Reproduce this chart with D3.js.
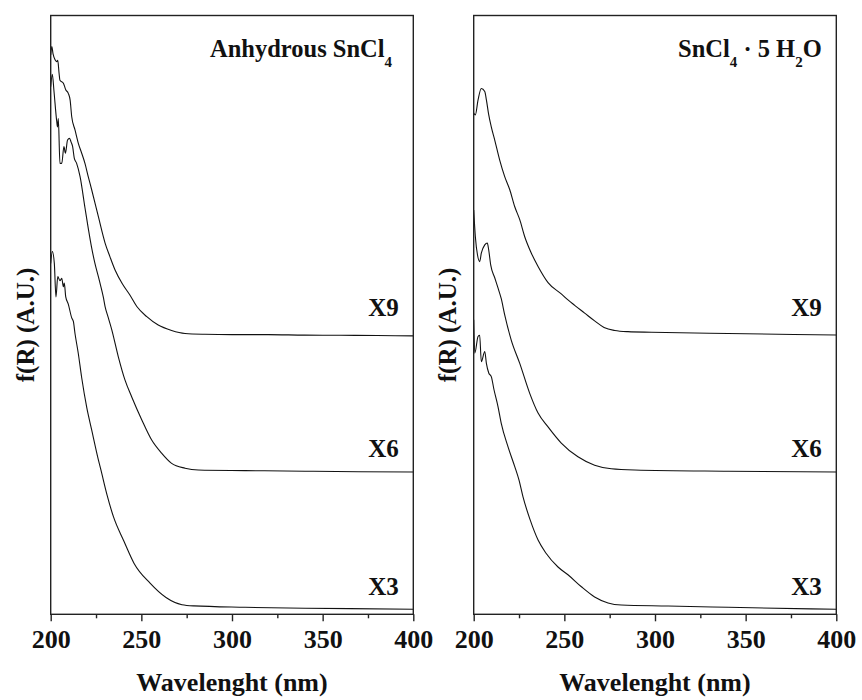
<!DOCTYPE html>
<html><head><meta charset="utf-8">
<script src="https://cdn.jsdelivr.net/npm/d3@7"></script>
<style>
html,body{margin:0;padding:0;background:#fff;}
svg text{font-family:"Liberation Serif","Times New Roman",Tinos,"DejaVu Serif","Noto Serif",serif;font-weight:bold;fill:#111;}
</style></head><body>
<svg id="chart" width="862" height="700"></svg>
<script>
// Wavelength axis
const majorTicks = [200, 250, 300, 350, 400];
const minorTicks = [225, 275, 325, 375];
const xTitle = "Wavelenght (nm)";
const yTitle = "f(R) (A.U.)";
const seriesNames = ["X9", "X6", "X3"];

// Kubelka-Munk spectra, stacked with vertical offsets: [wavelength (nm), f(R) (A.U.)]
const anhydrousX9 = [[200,93.4],[200.6,94.8],[201.3,93.6],[202.4,92.6],[203.3,92.3],[203.9,92.5],[204.6,90.4],[205.1,89.2],[207.0,88.7],[208.3,87.6],[209.7,87.0],[210.7,85.9],[211.6,83.1],[213.4,80.9],[215.2,78.7],[217.1,77.0],[218.9,75.3],[220.7,73.1],[222.6,70.9],[226.3,66.4],[230.0,62.0],[232.7,59.7],[235.5,57.5],[239.5,55.2],[243.5,53.4],[247.5,51.4],[253,49.7],[259.3,48.3],[266.7,47.4],[274.1,46.9],[285,46.76],[300,46.7],[320,46.7],[340,46.62],[360,46.6],[380,46.55],[400,46.5]];
const anhydrousX6 = [[200,88.1],[200.9,90.2],[201.8,87.4],[203.3,82.4],[203.75,81.4],[204.2,82.8],[205.1,75.3],[206.1,75.3],[207.3,78.1],[208.1,77.0],[209.3,79.2],[210.4,79.5],[211.2,78.9],[212.1,78.1],[213.0,76.2],[214.3,75.3],[216.2,73.1],[218.9,67.9],[220.7,64.5],[222.6,61.2],[224.4,58.6],[226.3,56.4],[227.2,55.3],[229.0,53.0],[230.0,51.4],[231.8,49.5],[233.7,47.5],[237.3,43.0],[241.0,39.1],[244.7,36.3],[250.2,32.5],[255.7,29.1],[261.2,26.9],[266.7,25.2],[274.1,24.4],[281.4,24.1],[307.2,24.0],[340.3,23.9],[370,23.8],[400,23.77]];
const anhydrousX3 = [[200,58.6],[200.9,60.6],[202.0,58.6],[202.9,53.0],[203.9,56.4],[205.1,55.7],[206.1,56.1],[207.0,54.7],[207.5,55.3],[208.3,53.0],[209.7,51.8],[211.6,49.5],[212.5,48.9],[213.4,46.9],[215.2,43.6],[217.1,39.5],[219.9,34.5],[222.6,30.8],[226.3,25.8],[227.7,24.1],[231.1,19.9],[234.6,16.3],[240.4,12.2],[246.0,8.5],[254.8,5.2],[263.6,2.8],[272.4,1.6],[279.0,1.4],[307.2,1.17],[340.3,1.0],[365.1,0.94],[400,0.84]];

const hydrateX9 = [[200,83.7],[200.9,83.4],[202.4,85.9],[204.2,87.8],[206.1,87.3],[207.0,85.9],[208.3,83.4],[209.7,81.4],[211.6,79.2],[214.3,75.9],[217.1,73.1],[219.9,70.9],[222.6,68.1],[225.4,65.9],[228.1,63.1],[231.8,60.3],[235.5,58.1],[241.0,55.4],[248.3,53.5],[252.0,52.5],[255.7,51.6],[261.2,50.3],[266.7,49.0],[271.9,47.9],[277.8,47.4],[285.1,47.2],[298.0,47.1],[340.3,46.9],[400,46.64]];
const hydrateX6 = [[200,67.5],[200.9,63.1],[202.1,60.0],[203.3,58.9],[204.2,60.3],[206.1,61.7],[207.5,62.0],[208.3,60.8],[209.4,58.3],[211.6,56.2],[213.4,54.5],[215.2,52.7],[217.1,50.0],[220.7,45.8],[225.4,41.9],[230.9,36.9],[235.5,33.6],[241.0,31.3],[248.3,28.6],[257.5,26.3],[266.7,24.9],[275.9,24.3],[288.8,24.1],[340.3,23.9],[400,23.77]];
const hydrateX3 = [[200,49.2],[200.6,43.6],[202.4,46.4],[203.3,46.6],[204.2,42.2],[206.1,43.9],[207.0,41.9],[208.3,40.3],[209.7,39.7],[211.2,37.5],[213.4,34.7],[215.2,31.9],[218.9,28.0],[222.6,24.7],[225.0,22.4],[227.2,19.6],[231.1,15.8],[235.5,12.4],[239.9,10.2],[246.5,7.9],[252.0,6.6],[259.4,4.6],[266.7,2.9],[274.1,1.9],[281.4,1.55],[307.2,1.39],[340.3,1.17],[400,0.84]];

const panels = [
  { left: 50.7, right: 413.3, series: [anhydrousX9, anhydrousX6, anhydrousX3],
    title: [["Anhydrous SnCl", 0], ["4", 1]], titleX: 210, yTitleX: 34 },
  { left: 473.7, right: 836.3, series: [hydrateX9, hydrateX6, hydrateX3],
    title: [["SnCl", 0], ["4", 1], [" \u00B7 5 H", 0], ["2", 1], ["O", 0]], titleX: 678, yTitleX: 456 }
];

const fontStack = '"Liberation Serif","Times New Roman",Tinos,"DejaVu Serif","Noto Serif",serif';
const plotTop = 15.5, plotBottom = 614.3;
const svg = d3.select("#chart");
const y = d3.scaleLinear().domain([0, 100]).range([plotBottom, plotTop]);
const labelValues = [49.8, 26.3, 3.2];

panels.forEach((p, i) => {
  const x = d3.scaleLinear().domain([200, 400]).range([p.left, p.right]);
  const g = svg.append("g");

  const clipId = "clip" + i;
  svg.append("clipPath").attr("id", clipId)
    .append("rect").attr("x", p.left).attr("y", plotTop)
    .attr("width", p.right - p.left).attr("height", plotBottom - plotTop);

  const line = d3.line().curve(d3.curveMonotoneX).x(d => x(d[0])).y(d => y(d[1]));
  g.append("g").attr("clip-path", `url(#${clipId})`)
    .selectAll("path").data(p.series).join("path")
    .attr("d", line).attr("fill", "none")
    .attr("stroke", "#111").attr("stroke-width", 1.1)
    .attr("stroke-linejoin", "round");

  // frame
  g.append("rect").attr("x", p.left).attr("y", plotTop)
    .attr("width", p.right - p.left).attr("height", plotBottom - plotTop)
    .attr("fill", "none").attr("stroke", "#222").attr("stroke-width", 1.4);

  // bottom axis: major and minor ticks
  const ax = g.append("g").attr("transform", `translate(0,${plotBottom})`)
    .call(d3.axisBottom(x).tickValues(majorTicks).tickSize(7).tickFormat(d3.format("d")));
  ax.attr("font-family", null).attr("font-size", null);
  ax.select(".domain").remove();
  ax.selectAll(".tick line").attr("stroke", "#222").attr("stroke-width", 1.4);
  ax.selectAll(".tick text").attr("y", 34).attr("dy", 0)
    .style("font-family", fontStack)
    .style("font-weight", "bold").style("font-size", "26px").attr("fill", "#111");

  const axm = g.append("g").attr("transform", `translate(0,${plotBottom})`)
    .call(d3.axisBottom(x).tickValues(minorTicks).tickSize(4).tickFormat(""));
  axm.select(".domain").remove();
  axm.selectAll(".tick line").attr("stroke", "#222").attr("stroke-width", 1.4);

  // axis titles
  g.append("text").attr("x", (p.left + p.right) / 2).attr("y", 691)
    .attr("text-anchor", "middle").style("font-size", "26px").text(xTitle);
  g.append("text")
    .attr("transform", `translate(${p.yTitleX},325) rotate(-90)`)
    .attr("text-anchor", "middle").style("font-size", "25px").text(yTitle);

  // series labels
  g.selectAll(".slabel").data(seriesNames).join("text")
    .attr("x", x(392)).attr("y", (d, k) => y(labelValues[k]))
    .attr("text-anchor", "end").style("font-size", "25px").text(d => d);

  // panel title with subscripts
  const t = g.append("text").attr("x", p.titleX).attr("y", 57).style("font-size", "24.5px");
  let prevSub = 0;
  p.title.forEach(([s, sub]) => {
    const ts = t.append("tspan").text(s);
    if (sub) ts.style("font-size", "15px");
    const shift = (sub ? 10 : 0) - (prevSub ? 10 : 0);
    if (shift) ts.attr("dy", shift);
    prevSub = sub;
  });
});
</script>
</body></html>
